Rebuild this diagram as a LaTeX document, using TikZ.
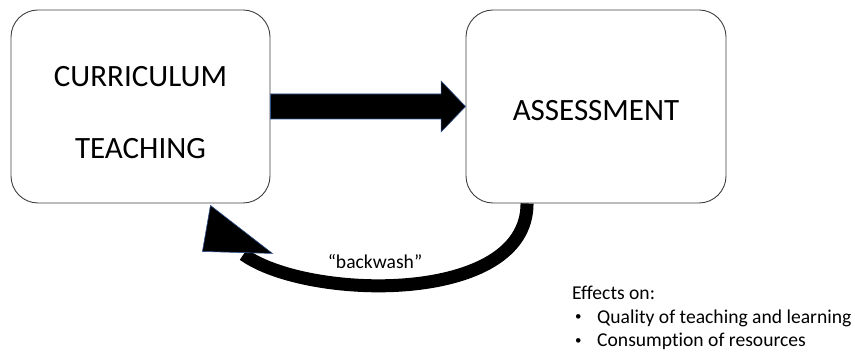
\documentclass[tikz,border=0pt]{standalone}
\usepackage{fontspec}
\setmainfont{Carlito}[Ligatures=NoCommon]
\usetikzlibrary{calc}
\definecolor{edgenavy}{RGB}{47,82,143}
\definecolor{boxline}{RGB}{64,64,64}
\newcommand{\smallbul}{\raisebox{2.5pt}{\fontsize{13}{13}\selectfont •}}
\tikzset{
  box/.style={draw=boxline, line width=0.9pt, rounded corners=27pt, minimum width=259pt, minimum height=193pt, inner sep=0pt},
  bigtext/.style={font=\fontsize{31}{72}\selectfont, align=center, inner sep=0pt},
  smalltext/.style={font=\fontsize{19.6}{23.5}\selectfont, inner sep=0pt},
  fatarrow/.style={fill=black, draw=edgenavy, line width=0.6pt, line join=miter},
  curvedshaft/.style={draw=black, line width=13pt},
  curvedhead/.style={fill=black, draw=edgenavy, line width=0.6pt, line join=miter}
}
\begin{document}
\begin{tikzpicture}[x=1pt,y=-1pt]
\useasboundingbox (0,0) rectangle (855,352);
\node[box] (L) at (140.5,106.5) {};
\node[box, minimum width=260pt] (R) at (596,106.5) {};
\node[bigtext] (Ltext) at (140.5,113) {CURRICULUM\\TEACHING};
\node[bigtext] (Rtext) at (596,111) {ASSESSMENT};
% thick straight arrow
\path[fatarrow] ($(L.east)+(0,-12.5)$) -- ($(R.west)+(-24.5,-12.5)$) -- ($(R.west)+(-24.5,-25.5)$) -- (R.west)
  -- ($(R.west)+(-24.5,25.5)$) -- ($(R.west)+(-24.5,12.5)$) -- ($(L.east)+(0,12.5)$) -- cycle;
% curved backwash arrow
\coordinate (start) at ($(R.south west)+(61.5,0)$);
\coordinate (tip) at ($(L.south east)+(-60,2)$);
\coordinate (hl) at ($(L.south east)+(-68,48)$);
\coordinate (hr) at ($(L.south east)+(2,50)$);
\coordinate (base) at ($(hl)!0.5!(hr)$);
\draw[curvedshaft] (start) .. controls ($(start)+(0,102)$) and ($(base)+(70,48)$) .. ($(base)+(6,2)$);
\path[curvedhead] (tip) -- (hl) -- (hr) -- cycle;
\node[smalltext] (bw) at (375,262) {“backwash”};
\node[smalltext, anchor=base west, align=left] (eff) at (572,347) {Effects on:\\
\hspace*{3pt}\makebox[22pt][l]{\smallbul}Quality of teaching and learning\\
\hspace*{3pt}\makebox[22pt][l]{\smallbul}Consumption of resources};
\end{tikzpicture}
\end{document}
